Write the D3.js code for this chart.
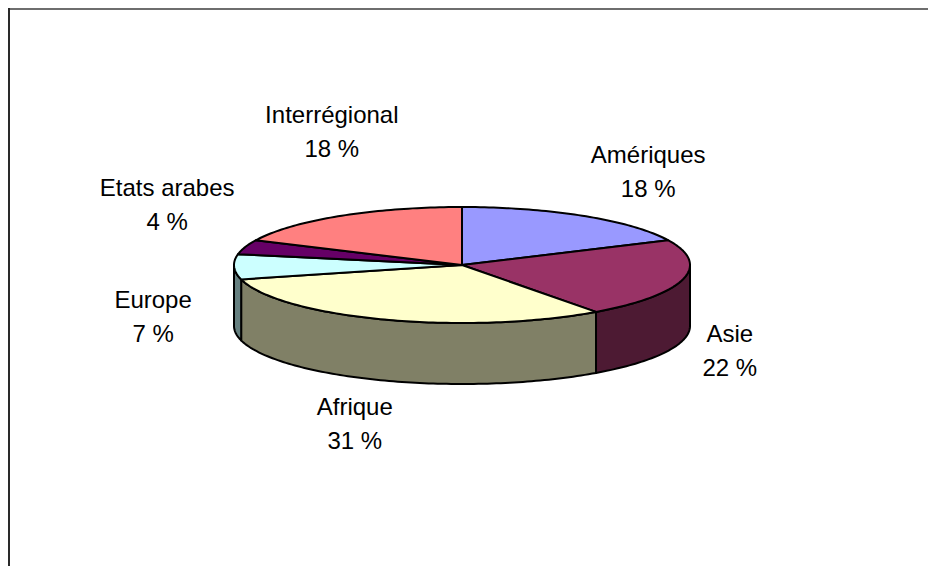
<!DOCTYPE html>
<html lang="fr">
    <head>
        <meta charset="utf-8">
        <title>Répartition par région</title>
        <script type="text/javascript" src="https://cdn.jsdelivr.net/npm/d3@7/dist/d3.min.js"></script>
        <style>
            body { margin: 0; background: #fff; }
            text { font-family: "Liberation Sans", Arial, sans-serif; font-size: 24px; fill: #000; }
        </style>
    </head>

    <body>
        <script type="text/javascript">

            // data of the chart
            var regions = ["Amériques", "Asie", "Afrique", "Europe", "Etats arabes", "Interrégional"];
            var shares = [18, 22, 31, 7, 4, 18];

            // colours of top faces and of the sides
            var top_colors = ["#9999ff", "#993366", "#ffffcc", "#ccffff", "#660066", "#ff8080"];
            var side_colors = ["#4d4d80", "#4d1a33", "#808066", "#668080", "#330033", "#804040"];

            // label nudge from the mid point of each slice rim (layout only)
            var label_nudge = [[64, -53], [47, 63], [-30, 95], [-81, 41], [-78, -51], [-8, -93]];

            var width = 928, height = 566;
            var cx = 462, cy = 265, rx = 228, ry = 58, depth = 61;

            var svg = d3.select("body")
                .append("svg")
                .attr("width", width)
                .attr("height", height);

            // frame of the chart area (only top and left edges are in view)
            svg.append("line")
                .attr("x1", 8).attr("y1", 9).attr("x2", width).attr("y2", 9)
                .attr("stroke", "#6e6e6e").attr("stroke-width", 2);
            svg.append("line")
                .attr("x1", 9).attr("y1", 8).attr("x2", 9).attr("y2", height)
                .attr("stroke", "#2a2a2a").attr("stroke-width", 2);

            var pie = d3.pie().sort(null).value(function(d) { return d; });
            var arcs = pie(shares);

            // point on the flattened ellipse for a pie angle (0 = top, clockwise)
            function pt(a, dy) {
                return [cx + rx * Math.sin(a), cy - ry * Math.cos(a) + (dy || 0)];
            }

            function arc_points(a0, a1, dy) {
                var n = Math.max(2, Math.ceil((a1 - a0) / 0.02));
                return d3.range(n + 1).map(function(i) {
                    return pt(a0 + (a1 - a0) * i / n, dy);
                });
            }

            var line = d3.line();

            // sides: only the front half (pi/2 .. 3pi/2) is seen
            var sides = svg.append("g");
            arcs.forEach(function(d, i) {
                var a0 = Math.max(d.startAngle, Math.PI / 2);
                var a1 = Math.min(d.endAngle, 3 * Math.PI / 2);
                if (a1 <= a0) return;
                var pts = arc_points(a0, a1, 0).concat(arc_points(a0, a1, depth).reverse());
                sides.append("path")
                    .attr("d", line(pts) + "Z")
                    .attr("fill", side_colors[i])
                    .attr("stroke", "#000")
                    .attr("stroke-width", 2)
                    .attr("stroke-linejoin", "round");
            });

            // top faces
            var tops = svg.append("g");
            arcs.forEach(function(d, i) {
                var pts = [[cx, cy]].concat(arc_points(d.startAngle, d.endAngle, 0));
                tops.append("path")
                    .attr("d", line(pts) + "Z")
                    .attr("fill", top_colors[i])
                    .attr("stroke", "#000")
                    .attr("stroke-width", 2)
                    .attr("stroke-linejoin", "round");
            });

            // labels: name and percentage on two lines
            var labels = svg.append("g");
            arcs.forEach(function(d, i) {
                var mid = (d.startAngle + d.endAngle) / 2;
                var p = pt(mid, 0);
                var x = p[0] + label_nudge[i][0];
                var y = p[1] + label_nudge[i][1];
                var t = labels.append("text")
                    .attr("text-anchor", "middle");
                t.append("tspan").attr("x", x).attr("y", y).text(regions[i]);
                t.append("tspan").attr("x", x).attr("y", y + 34).text(shares[i] + " %");
            });
        </script>
    </body>
</html>
